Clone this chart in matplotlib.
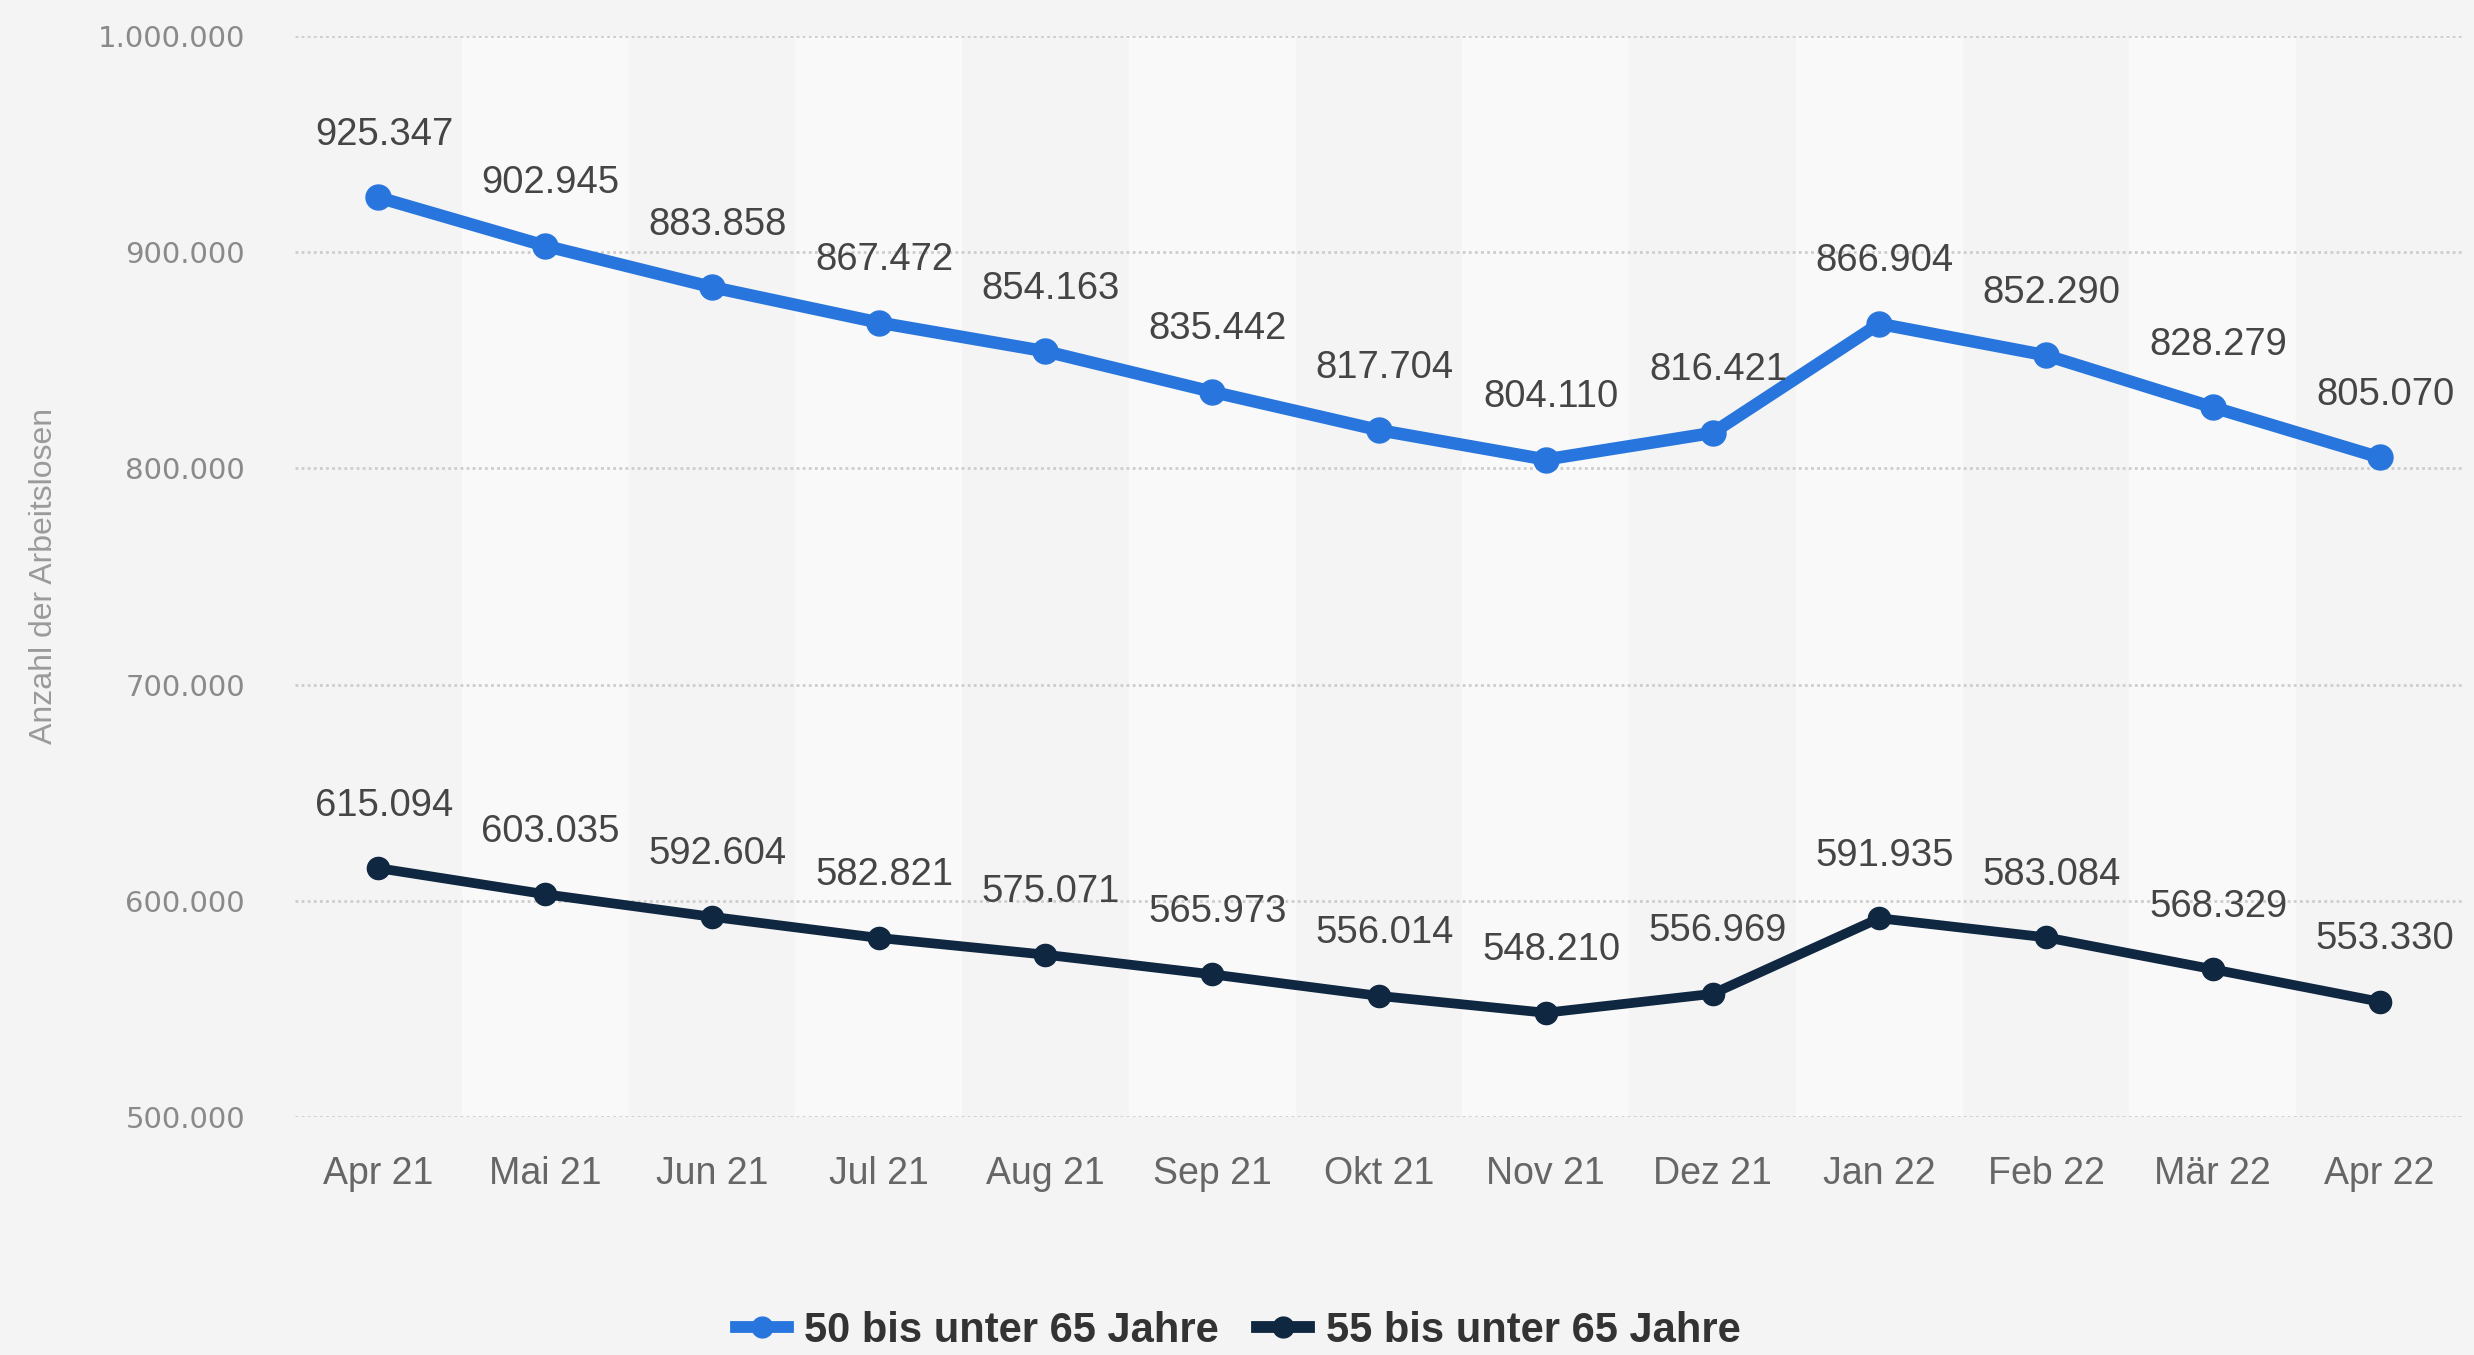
import matplotlib
matplotlib.use("Agg")
import matplotlib.pyplot as plt
from matplotlib.lines import Line2D

# Daten
monate = ["Apr 21", "Mai 21", "Jun 21", "Jul 21", "Aug 21", "Sep 21", "Okt 21",
          "Nov 21", "Dez 21", "Jan 22", "Feb 22", "Mär 22", "Apr 22"]
werte_50_65 = [925347, 902945, 883858, 867472, 854163, 835442, 817704,
               804110, 816421, 866904, 852290, 828279, 805070]
werte_55_65 = [615094, 603035, 592604, 582821, 575071, 565973, 556014,
               548210, 556969, 591935, 583084, 568329, 553330]
y_ticks = [500000, 600000, 700000, 800000, 900000, 1000000]

blau = "#2876dd"
dunkel = "#0f2740"
hintergrund = "#f4f4f4"


def fmt(v):
    return f"{v:,}".replace(",", ".")


plt.rcParams["font.family"] = ["Liberation Sans", "DejaVu Sans"]

fig = plt.figure(figsize=(24.74, 13.55), dpi=100, facecolor=hintergrund)
ax = fig.add_axes([295 / 2474, 238 / 1355, (2463 - 295) / 2474, 1081 / 1355])
ax.set_facecolor(hintergrund)

x = list(range(len(monate)))

# abwechselnde Spalten
for i in x:
    if i % 2 == 1:
        ax.axvspan(i - 0.5, i + 0.5, color="#f9f9f9", zorder=0, lw=0)

# Gitterlinien
for t in y_ticks:
    ax.axhline(t, color="#cdcdcd", lw=2, ls=(0, (1, 1.2)), zorder=1)

ax.plot(x, werte_50_65, color=blau, lw=9, marker="o", ms=18, zorder=4,
        solid_capstyle="round")
ax.plot(x, werte_55_65, color=dunkel, lw=7, marker="o", ms=16, zorder=4,
        solid_capstyle="round")

for serie in (werte_50_65, werte_55_65):
    for i, v in zip(x, serie):
        ax.annotate(fmt(v), (i, v), xytext=(4, 45), textcoords="offset points",
                    ha="center", va="center", fontsize=27.5, color="#454545",
                    zorder=5)

ax.set_xlim(-0.5, len(monate) - 0.5)
ax.set_ylim(500000, 1000000)
ax.set_xticks(x)
ax.set_xticklabels(monate, fontsize=27, color="#666666")
ax.set_yticks(y_ticks)
ax.set_yticklabels([fmt(t) for t in y_ticks], fontsize=21, color="#8a8a8a",
                   family="DejaVu Sans")
ax.tick_params(axis="both", length=0)
ax.tick_params(axis="x", pad=28)
ax.tick_params(axis="y", pad=36)
for s in ax.spines.values():
    s.set_visible(False)

fig.text(44 / 2474, 1 - 576 / 1355, "Anzahl der Arbeitslosen", rotation=90,
         ha="center", va="center", fontsize=23, color="#9a9a9a")

handles = [
    Line2D([], [], color=blau, lw=8.5, marker="o", ms=15),
    Line2D([], [], color=dunkel, lw=8.5, marker="o", ms=15),
]
leg = fig.legend(handles, ["50 bis unter 65 Jahre", "55 bis unter 65 Jahre"],
                 loc="center", bbox_to_anchor=(1238 / 2474, 24 / 1355), ncol=2,
                 frameon=False, handlelength=1.25, handletextpad=0.4,
                 columnspacing=0.9, borderpad=0.1,
                 prop={"size": 30, "weight": "bold"})
for t in leg.get_texts():
    t.set_color("#333333")

fig.savefig("out.png", dpi=100, facecolor=hintergrund)
